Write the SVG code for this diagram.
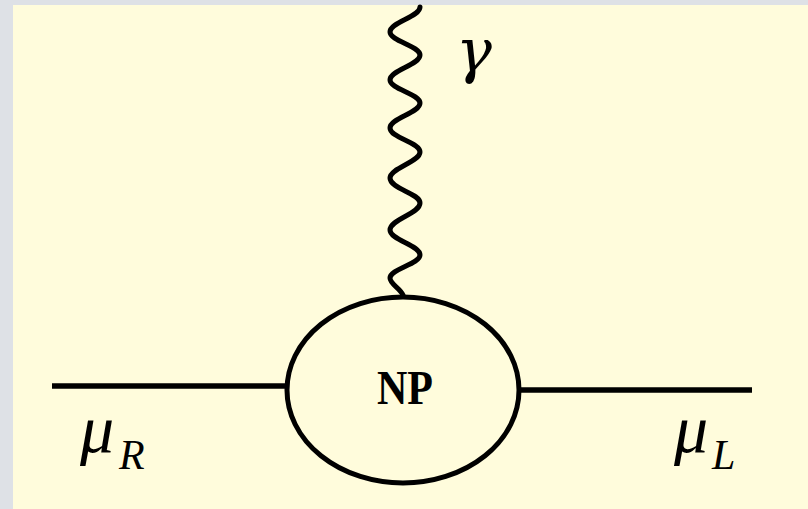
<svg xmlns="http://www.w3.org/2000/svg" width="808" height="509" viewBox="0 0 808 509">
<style>
.ln{fill:none;stroke:#000;stroke-width:5.5;stroke-linecap:butt}
.wv{fill:none;stroke:#000;stroke-width:5;stroke-linecap:round;stroke-linejoin:round}
.node{fill:none;stroke:#000;stroke-width:5}
.sym{font-family:"Liberation Serif","DejaVu Serif",serif;font-style:italic;fill:#000}
.gam{font-family:"DejaVu Serif","Liberation Serif",serif;font-style:italic;fill:#000}
.np{font-family:"Liberation Serif","DejaVu Serif",serif;font-weight:bold;fill:#000}
</style>
<rect x="0" y="0" width="808" height="509" fill="#dee1e6"/>
<rect x="13" y="5" width="795" height="504" fill="#fffcdc"/>
<g id="connectors">
<path class="wv" d="M420,7 C420,17 390,22 390,32 C390,41 420,46 420,55 C420,65 390,70 390,80 C390,89 420,94 420,103 C420,113 390,118 390,128 C390,138 420,142 420,152 C420,162 390,168 390,178 C390,189 420,193 420,203 C420,214 390,219 390,230 C390,240 420,245 420,255 C420,264 390,269 390,278 C390,284 400,288 403,295"/>
<line class="ln" x1="52" y1="386" x2="287" y2="386"/>
<line class="ln" x1="519" y1="390" x2="752" y2="390"/>
</g>
<g id="np">
<ellipse class="node" cx="403" cy="390" rx="116" ry="93"/>
<text class="np" x="405" y="404" font-size="48" text-anchor="middle" textLength="56" lengthAdjust="spacingAndGlyphs">NP</text>
</g>
<g id="photon-label">
<text class="gam" x="456" y="72" font-size="60">γ</text>
</g>
<g id="muR-label">
<text class="sym" x="80" y="452" font-size="68">μ</text>
<text class="sym" x="119" y="469" font-size="42">R</text>
</g>
<g id="muL-label">
<text class="sym" x="674" y="452" font-size="68">μ</text>
<text class="sym" x="712" y="469" font-size="42">L</text>
</g>
</svg>
